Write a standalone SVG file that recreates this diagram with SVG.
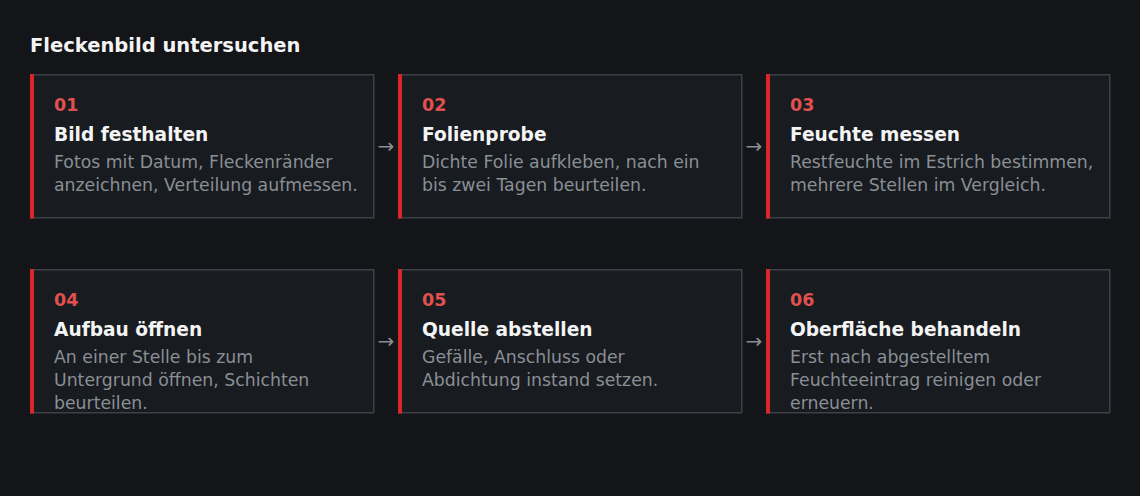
<svg xmlns="http://www.w3.org/2000/svg" width="1140" height="496" viewBox="0 0 1140 496">
<style>
.bg{fill:#131518}
.card{fill:#181b1f;stroke:#3c4147;stroke-width:1.5}
.bar{fill:#d9262b}
.num{font-family:"DejaVu Sans",sans-serif;font-weight:bold;font-size:17.5px;fill:#e0504f}
.ttl{font-family:"DejaVu Sans",sans-serif;font-weight:bold;font-size:18.6px;fill:#f4f4f4}
.dsc{font-family:"DejaVu Sans",sans-serif;font-size:17.3px;fill:#8a8f95}
.hd{font-family:"DejaVu Sans",sans-serif;font-weight:bold;font-size:19.5px;fill:#f4f4f4}
.arr{font-family:"DejaVu Sans",sans-serif;font-size:20px;fill:#8a8f95}
</style>
<rect class="bg" x="0" y="0" width="1140" height="496"/>
<text class="hd" x="30" y="51.5">Fleckenbild untersuchen</text>
<g id="n1">
<rect class="card" x="30.75" y="74.75" width="343" height="143"/>
<rect class="bar" x="30" y="74" width="4" height="144.5"/>
<text class="num" x="54" y="111">01</text>
<text class="ttl" x="54" y="141">Bild festhalten</text>
<text class="dsc" x="54" y="168">Fotos mit Datum, Fleckenränder</text>
<text class="dsc" x="54" y="191">anzeichnen, Verteilung aufmessen.</text>
</g>
<g id="n2">
<rect class="card" x="398.75" y="74.75" width="343" height="143"/>
<rect class="bar" x="398" y="74" width="4" height="144.5"/>
<text class="num" x="422" y="111">02</text>
<text class="ttl" x="422" y="141">Folienprobe</text>
<text class="dsc" x="422" y="168">Dichte Folie aufkleben, nach ein</text>
<text class="dsc" x="422" y="191">bis zwei Tagen beurteilen.</text>
</g>
<g id="n3">
<rect class="card" x="766.75" y="74.75" width="343" height="143"/>
<rect class="bar" x="766" y="74" width="4" height="144.5"/>
<text class="num" x="790" y="111">03</text>
<text class="ttl" x="790" y="141">Feuchte messen</text>
<text class="dsc" x="790" y="168">Restfeuchte im Estrich bestimmen,</text>
<text class="dsc" x="790" y="191">mehrere Stellen im Vergleich.</text>
</g>
<g id="n4">
<rect class="card" x="30.75" y="269.75" width="343" height="143"/>
<rect class="bar" x="30" y="269" width="4" height="144.5"/>
<text class="num" x="54" y="306">04</text>
<text class="ttl" x="54" y="336">Aufbau öffnen</text>
<text class="dsc" x="54" y="363">An einer Stelle bis zum</text>
<text class="dsc" x="54" y="386">Untergrund öffnen, Schichten</text>
<text class="dsc" x="54" y="409">beurteilen.</text>
</g>
<g id="n5">
<rect class="card" x="398.75" y="269.75" width="343" height="143"/>
<rect class="bar" x="398" y="269" width="4" height="144.5"/>
<text class="num" x="422" y="306">05</text>
<text class="ttl" x="422" y="336">Quelle abstellen</text>
<text class="dsc" x="422" y="363">Gefälle, Anschluss oder</text>
<text class="dsc" x="422" y="386">Abdichtung instand setzen.</text>
</g>
<g id="n6">
<rect class="card" x="766.75" y="269.75" width="343" height="143"/>
<rect class="bar" x="766" y="269" width="4" height="144.5"/>
<text class="num" x="790" y="306">06</text>
<text class="ttl" x="790" y="336">Oberfläche behandeln</text>
<text class="dsc" x="790" y="363">Erst nach abgestelltem</text>
<text class="dsc" x="790" y="386">Feuchteeintrag reinigen oder</text>
<text class="dsc" x="790" y="409">erneuern.</text>
</g>
<g id="connectors">
<text class="arr" x="386" y="153" text-anchor="middle">→</text>
<text class="arr" x="754" y="153" text-anchor="middle">→</text>
<text class="arr" x="386" y="348" text-anchor="middle">→</text>
<text class="arr" x="754" y="348" text-anchor="middle">→</text>
</g>
</svg>
